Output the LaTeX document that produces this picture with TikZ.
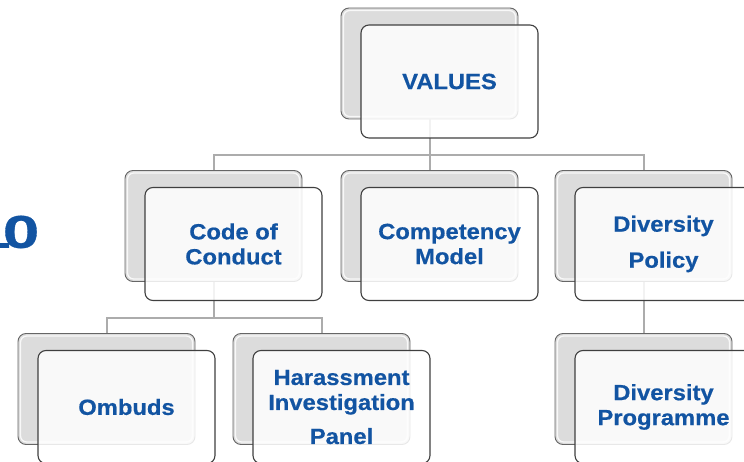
\documentclass[tikz,border=0pt]{standalone}
\usepackage{fontspec}
\setmainfont{Liberation Sans}[FakeStretch=1.08, BoldFeatures={FakeBold=0.6}]
\definecolor{chartblue}{RGB}{18,84,162}
\definecolor{cardgray}{RGB}{220,220,220}
\definecolor{wiregray}{RGB}{172,172,172}

\begin{document}
\begin{tikzpicture}[x=1pt, y=-1pt,
  back/.style={draw=black!60, fill=cardgray, rounded corners=8pt, minimum width=177pt,
    minimum height=111pt, inner sep=0pt, line width=0.9pt},
  gloss/.style={draw=white, line width=1.3pt, rounded corners=6pt, opacity=0.8},
  front/.style={draw=black!75, fill=white, fill opacity=0.85, text opacity=1,
    rounded corners=8pt, minimum width=177pt, minimum height=113pt, inner sep=0pt,
    line width=1.1pt, xshift=20pt, yshift=-18pt, align=center, text=chartblue,
    font=\fontsize{22}{25}\selectfont\bfseries},
  wire/.style={draw=wiregray, line width=2pt}]

\useasboundingbox (0,0) rectangle (744,462);
\clip (0,0) rectangle (744,462);

% grey cards behind
\foreach \name/\cx/\cy in {valb/429.5/63.5,
    cocb/213.5/226, compb/429.5/226, divb/643.5/226,
    ombb/106.5/389, harb/321.5/389, progb/643.5/389} {
  \node[back] (\name) at (\cx,\cy) {};
  \draw[gloss] ([shift={(3pt,3pt)}]\name.south west) rectangle ([shift={(-3pt,-3pt)}]\name.north east);
}

% tree lines
\coordinate (bus1) at (0,155);
\coordinate (bus2) at (0,318);
\draw[wire] (valb.south) -- (valb.south |- bus1) -| (cocb.north);
\draw[wire] (valb.south |- bus1) -| (divb.north);
\draw[wire] (valb.south |- bus1) -- (compb.north);
\draw[wire] (cocb.south) -- (cocb.south |- bus2) -| (ombb.north);
\draw[wire] (cocb.south |- bus2) -| (harb.north);
\draw[wire] (divb.south) -- (progb.north);

% white cards in front
\node[front] (val) at (valb) {VALUES};
\node[front] (coc) at (cocb) {Code of\\Conduct};
\node[front] (comp) at (compb) {Competency\\Model};
\node[front] (div) at (divb) {Diversity\\[11pt]Policy};
\node[front] (omb) at (ombb) {Ombuds};
\node[front] (har) at (harb) {Harassment\\Investigation\\[9pt]Panel};
\node[front] (prog) at (progb) {Diversity\\Programme};

% number at the left edge, cut by the page
\node[anchor=east, inner sep=0pt, text=chartblue, font=\fontsize{46}{46}\selectfont\bfseries]
  (year) at (39.5,232) {\scalebox{1.32}[1]{1\kern-0.13em 0}};
\end{tikzpicture}
\end{document}
